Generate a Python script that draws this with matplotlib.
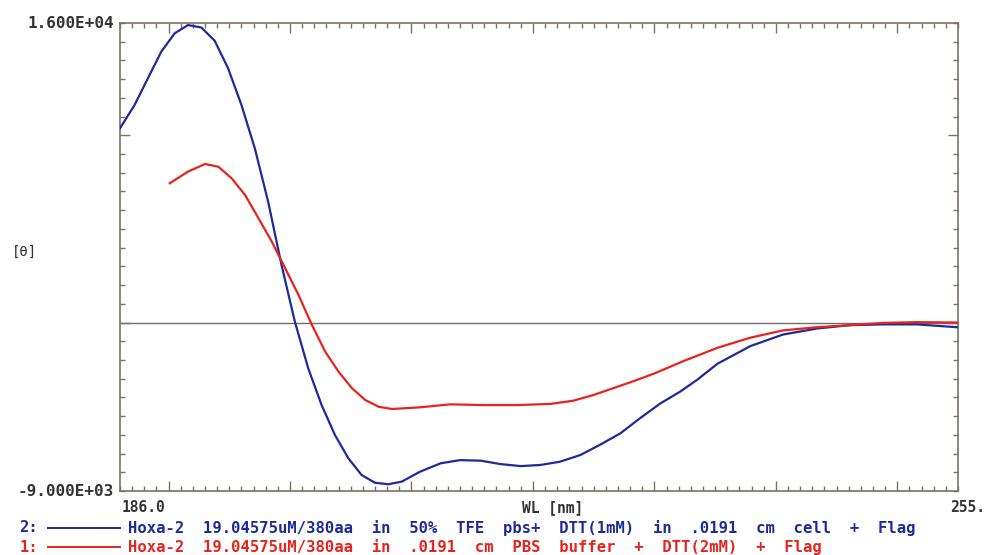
import matplotlib
matplotlib.use("Agg")
import matplotlib.pyplot as plt
from matplotlib.ticker import MultipleLocator

# ---- data ----
blue_wl = [186.0, 187.2, 188.3, 189.4, 190.5, 191.6, 192.7, 193.8, 194.9, 196.0,
           197.1, 198.2, 199.3, 200.4, 201.5, 202.6, 203.7, 204.8, 205.9, 207.0,
           208.1, 209.2, 210.7, 212.4, 214.0, 215.7, 217.3, 219.0, 220.6, 222.2,
           223.9, 225.5, 227.2, 228.8, 230.5, 232.1, 233.5, 235.2, 237.9, 240.6,
           243.4, 246.1, 248.9, 251.6, 254.9]
blue_val = [10375, 11620, 13050, 14470, 15450, 15890, 15760, 15050, 13580, 11620,
            9310, 6450, 3070, 40, -2450, -4410, -6010, -7250, -8150, -8560,
            -8640, -8500, -7970, -7520, -7350, -7380, -7560, -7670, -7610, -7440,
            -7080, -6540, -5920, -5120, -4320, -3700, -3070, -2200, -1260, -640,
            -320, -140, -100, -100, -250]

red_wl = [190.1, 191.6, 193.0, 194.1, 195.2, 196.3, 197.4, 198.5, 199.6, 200.7,
          201.8, 202.9, 204.0, 205.1, 206.2, 207.3, 208.4, 210.7, 213.2, 215.9,
          218.7, 221.4, 223.3, 225.0, 226.6, 228.3, 230.0, 232.4, 235.2, 237.9,
          240.6, 243.4, 246.1, 248.9, 251.6, 254.9]
red_val = [7440, 8060, 8470, 8320, 7700, 6810, 5570, 4320, 2900, 1470,
           -130, -1560, -2630, -3510, -4140, -4500, -4620, -4530, -4370, -4410,
           -4410, -4350, -4180, -3870, -3510, -3130, -2720, -2060, -1350, -810,
           -420, -250, -140, -20, 20, 0]

x_min, x_max = 186.0, 255.0
y_min, y_max = -9000, 16000

legend2 = "Hoxa-2  19.04575uM/380aa  in  50%  TFE  pbs+  DTT(1mM)  in  .0191  cm  cell  +  Flag"
legend1 = "Hoxa-2  19.04575uM/380aa  in  .0191  cm  PBS  buffer  +  DTT(2mM)  +  Flag"

BLUE = "#1f2a99"
RED = "#e8231f"
FRAME = "#7a7266"

plt.rcParams['font.family'] = ['DejaVu Sans Mono', 'DejaVu Sans']

W, H = 991, 555
fig = plt.figure(figsize=(W / 100, H / 100), dpi=100)
ax = fig.add_axes([120 / W, 1 - 491 / H, (958 - 120) / W, (491 - 23) / H])

ax.plot(blue_wl, blue_val, color=BLUE, lw=1.6, zorder=3, solid_joinstyle="round")
ax.plot(red_wl, red_val, color=RED, lw=1.6, zorder=3, solid_joinstyle="round")
ax.axhline(0, color="#6e6e6e", lw=1.0, zorder=1)

ax.set_xlim(x_min, x_max)
ax.set_ylim(y_min, y_max)
ax.xaxis.set_major_locator(MultipleLocator(10))
ax.xaxis.set_minor_locator(MultipleLocator(1))
ax.yaxis.set_major_locator(MultipleLocator(10000))
ax.yaxis.set_minor_locator(MultipleLocator(1000))
ax.tick_params(which="both", direction="in", top=True, right=True,
               labelbottom=False, labelleft=False, color=FRAME, width=1.0)
ax.tick_params(which="major", length=7)
ax.tick_params(which="minor", length=3.5)
for s in ax.spines.values():
    s.set_color(FRAME)
    s.set_linewidth(1.2)

tkw = dict(fontweight="bold", color="#333333")

def px(x, y):
    return x / W, 1 - y / H

fig.text(*px(114, 23), "1.600E+04", ha="right", va="center", fontsize=11.5, **tkw)
fig.text(*px(114, 491), "-9.000E+03", ha="right", va="center", fontsize=11.5, **tkw)
fig.text(*px(122, 508), "186.0", ha="left", va="center", fontsize=10.5, **tkw)
fig.text(*px(553, 508), "WL [nm]", ha="center", va="center", fontsize=10.5, **tkw)
fig.text(*px(950, 508), "255.", ha="left", va="center", fontsize=10.5, **tkw)
fig.text(*px(12, 252), "[θ]", ha="left", va="center", fontsize=10, color="#333333")

# legend lines
fs = 11.2
fig.text(*px(38, 528), "2:", ha="right", va="center", fontsize=fs, fontweight="bold", color=BLUE)
fig.text(*px(38, 547), "1:", ha="right", va="center", fontsize=fs, fontweight="bold", color=RED)
fig.add_artist(plt.Line2D([48 / W, 120 / W], [1 - 528 / H, 1 - 528 / H], color=BLUE, lw=1.4))
fig.add_artist(plt.Line2D([48 / W, 120 / W], [1 - 547 / H, 1 - 547 / H], color=RED, lw=1.4))
fig.text(*px(128, 528), legend2, ha="left", va="center", fontsize=fs, fontweight="bold", color=BLUE)
fig.text(*px(128, 547), legend1, ha="left", va="center", fontsize=fs, fontweight="bold", color=RED)

fig.savefig("out.png", dpi=100, facecolor="white")
